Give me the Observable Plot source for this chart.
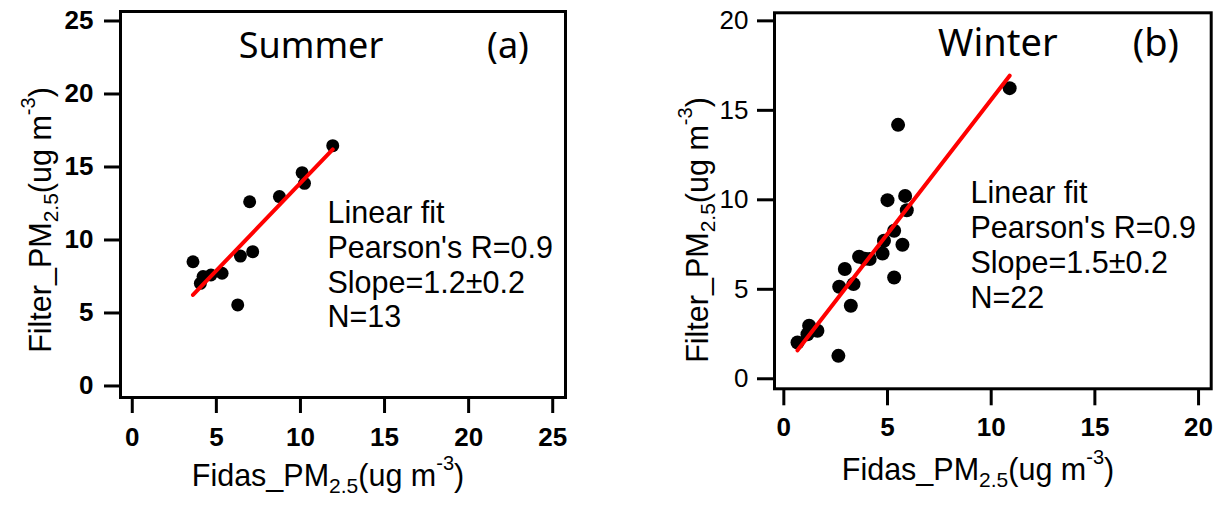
<!DOCTYPE html>
<html>
<head>
<meta charset="utf-8">
<script src="https://cdn.jsdelivr.net/npm/d3@7"></script>
<script src="https://cdn.jsdelivr.net/npm/@observablehq/plot@0.6"></script>
<style>
  html, body { margin: 0; padding: 0; background: #fff; }
  #chart { position: relative; width: 1220px; height: 505px; overflow: hidden; background: #fff; }
  #chart svg { position: absolute; top: 0; }
</style>
</head>
<body>
<div id="chart"></div>
<script>
// Summer campaign: Fidas monitor vs. filter PM2.5 (ug m-3)
const summerFidas  = [3.61, 4.05, 4.21, 4.68, 5.34, 6.27, 6.43, 7.16, 6.98, 8.75, 10.10, 10.24, 11.92];
const summerFilter = [8.51, 7.03, 7.49, 7.60, 7.72, 5.55, 8.90, 9.20, 12.62, 12.97, 14.61, 13.88, 16.46];

// Winter campaign
const winterFidas  = [0.66, 1.22, 1.62, 1.14, 2.63, 2.67, 2.94, 3.36, 3.23, 3.63, 3.90, 4.14, 4.76, 4.83, 5.32, 5.72, 5.32, 5.00, 5.85, 5.93, 5.51, 10.89];
const winterFilter = [2.03, 2.96, 2.68, 2.49, 1.28, 5.14, 6.13, 5.29, 4.08, 6.82, 6.70, 6.69, 7.00, 7.71, 8.27, 7.49, 5.66, 9.98, 10.22, 9.42, 14.19, 16.24];

// Linear fits
const summerFit = {slope: 1.2, intercept: 1.9};
const winterFit = {slope: 1.5, intercept: 0.6};

// Fit statistics
const summerStats = ["Linear fit", "Pearson's R=0.9", "Slope=1.2\u00B10.2", "N=13"];
const winterStats = ["Linear fit", "Pearson's R=0.9", "Slope=1.5\u00B10.2", "N=22"];

// Panel labels
const summerLabel = "Summer", summerTag = "(a)";
const winterLabel = "Winter", winterTag = "(b)";

// Tick values
const summerTicks = [0, 5, 10, 15, 20, 25];
const winterTicks = [0, 5, 10, 15, 20];

// Axis titles: [text, size, baseline shift]
const xTitleParts = [["Fidas_PM", 30.5, 0], ["2.5", 21, 7], ["(ug m", 30.5, 0], ["-3", 20, -16], [")", 30.5, 0]];
const yTitleParts = [["Filter_PM", 30.5, 0], ["2.5", 21, 7], ["(ug m", 30.5, 0], ["-3", 20, -16], [")", 30.5, 0]];

const SANS = "'Liberation Sans', Arial, sans-serif";
const NARROW = "'Liberation Sans Narrow', 'Arial Narrow', 'Liberation Sans', sans-serif";
const TITLE_FONT = "'Noto Sans', 'Open Sans', sans-serif";

function addTitle(svg, x, y, rotate, parts) {
  const t = d3.select(svg).append("text")
    .attr("transform", `translate(${x},${y})` + (rotate ? " rotate(-90)" : ""))
    .attr("text-anchor", "middle")
    .attr("font-family", SANS)
    .attr("fill", "#000");
  let shift = 0;
  for (const [s, size, off] of parts) {
    t.append("tspan").attr("font-size", size).attr("dy", off - shift).text(s);
    shift = off;
  }
}

function panel(cfg) {
  const pts = cfg.fidas.map((x, i) => ({x, y: cfg.filter[i]}));
  const ext = d3.extent(cfg.fidas);
  const fit = ext.map(x => ({x, y: cfg.fit.slope * x + cfg.fit.intercept}));
  const svg = Plot.plot({
    width: cfg.width,
    height: 505,
    marginLeft: cfg.ml, marginRight: cfg.mr, marginTop: cfg.mt, marginBottom: cfg.mb,
    style: {background: "transparent", overflow: "visible", color: "#000"},
    x: {domain: cfg.xDomain, label: null},
    y: {domain: cfg.yDomain, label: null},
    marks: [
      Plot.dot(pts, {x: "x", y: "y", r: cfg.r, fill: "#000", stroke: "none"}),
      Plot.line(fit, {x: "x", y: "y", stroke: "#ff0000", strokeWidth: 4}),
      Plot.frame({stroke: "#000", strokeWidth: 3}),
      Plot.axisX({ticks: cfg.ticks, tickFormat: d => d, tickSize: cfg.xTickSize, tickPadding: cfg.xPad,
        strokeWidth: 3, fontSize: 26, fontWeight: "bold", fontFamily: NARROW, label: null}),
      Plot.axisY({ticks: cfg.ticks, tickFormat: d => d, tickSize: cfg.yTickSize, tickPadding: cfg.yPad,
        strokeWidth: 3, fontSize: 26, fontWeight: cfg.yWeight, fontFamily: NARROW, label: null}),
      Plot.text([cfg.label], {text: d => d, frameAnchor: "top", lineAnchor: "top", textAnchor: "middle",
        dx: cfg.labelDx, dy: cfg.labelDy, fontSize: cfg.labelSize, fontFamily: TITLE_FONT, fill: "#000"}),
      Plot.text([cfg.tag], {text: d => d, frameAnchor: "top", lineAnchor: "top", textAnchor: "middle",
        dx: cfg.tagDx, dy: cfg.labelDy, fontSize: cfg.labelSize, fontFamily: TITLE_FONT, fill: "#000"}),
      Plot.text([cfg.stats.join("\n")], {text: d => d, frameAnchor: "top-left", lineAnchor: "top", textAnchor: "start",
        dx: cfg.statsDx, dy: cfg.statsDy, fontSize: 30.5, lineHeight: 1.14, fontFamily: SANS, fill: "#000"})
    ]
  });
  svg.style.left = cfg.left + "px";
  addTitle(svg, cfg.xTitle[0], cfg.xTitle[1], false, xTitleParts);
  addTitle(svg, cfg.yTitle[0], cfg.yTitle[1], true, yTitleParts);
  return svg;
}

const chart = document.getElementById("chart");

chart.appendChild(panel({
  left: 0, width: 620, ml: 120, mr: 55, mt: 11, mb: 108,
  xDomain: [-0.70, 25.76], yDomain: [-0.79, 25.65],
  fidas: summerFidas, filter: summerFilter, fit: summerFit, stats: summerStats,
  label: summerLabel, tag: summerTag, ticks: summerTicks, r: 6.5,
  xTickSize: 16, xPad: 14, yTickSize: 16, yPad: 11, yWeight: "bold",
  labelSize: 36, labelDx: -32, tagDx: 165, labelDy: 21,
  statsDx: 207, statsDy: 187,
  xTitle: [328, 486], yTitle: [51, 220]
}));

chart.appendChild(panel({
  left: 620, width: 600, ml: 154, mr: 9.3, mt: 12.3, mb: 116.7,
  xDomain: [-0.45, 20.61], yDomain: [-0.56, 20.45],
  fidas: winterFidas, filter: winterFilter, fit: winterFit, stats: winterStats,
  label: winterLabel, tag: winterTag, ticks: winterTicks, r: 7,
  xTickSize: 17, xPad: 12, yTickSize: 17, yPad: 9, yWeight: "normal",
  labelSize: 38, labelDx: 5, tagDx: 163, labelDy: 16,
  statsDx: 196, statsDy: 166,
  xTitle: [358, 480], yTitle: [88, 230]
}));
</script>
</body>
</html>
